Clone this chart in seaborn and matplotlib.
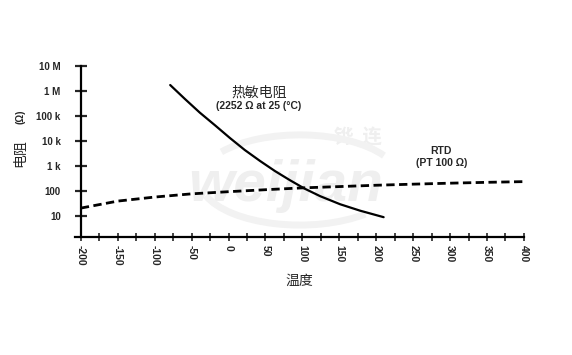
import numpy as np
import pandas as pd
import matplotlib
matplotlib.use('Agg')
import matplotlib.pyplot as plt
from matplotlib.patches import Arc
import seaborn as sns

# values
ntc_temp = [-79, -59, -39, -18, 2, 22, 43, 63, 83, 103, 124, 151, 178, 210]
ntc_ohm = [1.74e6, 4.8e5, 1.38e5, 4.2e4, 1.32e4, 4.4e3, 1.58e3, 631, 275, 126, 63, 30, 16.6, 9.1]

rtd_temp = [-200, -150, -100, -50, 0, 50, 100, 150, 200, 250, 300, 350, 400]
rtd_ohm = [21, 40, 58, 78, 95, 114, 135, 152, 172, 190, 208, 225, 240]

y_ticks = [10, 100, 1e3, 1e4, 1e5, 1e6, 1e7]
y_labels = ['10', '100', '1 k', '10 k', '100 k', '1 M', '10 M']
x_minor = list(range(-200, 401, 25))

sns.set_style('white')
plt.rcParams['font.family'] = ['Liberation Sans', 'Noto Sans CJK SC', 'DejaVu Sans']

ntc = pd.DataFrame({'温度': ntc_temp, '电阻': ntc_ohm})
rtd = pd.DataFrame({'温度': rtd_temp, '电阻': rtd_ohm})

fig = plt.figure(figsize=(5.72, 3.55), dpi=100)
ax = fig.add_axes([0.131, 0.332, 0.785, 0.482])

# faint watermark logo
wm = '#efefef'
ax.text(0.47, 0.30, 'weijian', transform=ax.transAxes, fontsize=42, fontweight='bold',
        fontstyle='italic', color=wm, ha='center', va='center', zorder=0)
ax.text(0.63, 0.58, '铧  连', transform=ax.transAxes, fontsize=14, fontweight='bold',
        color=wm, ha='center', va='center', zorder=0,
        family=['Noto Sans CJK SC'])
for t1, t2 in [(25, 150), (195, 320)]:
    ax.add_patch(Arc((0.524, 0.493), 0.35, 0.254, theta1=t1, theta2=t2,
                     transform=fig.transFigure, color='#f2f2f2', lw=5, zorder=0))

sns.lineplot(data=ntc, x='温度', y='电阻', ax=ax, color='black', lw=1.6)
sns.lineplot(data=rtd, x='温度', y='电阻', ax=ax, color='black', lw=2.0,
             linestyle=(0, (3, 1.6)))

ax.set_yscale('log')
ax.set_xlim(-208, 400)
ax.set_ylim(1.45, 1e7)

for s in ['top', 'right']:
    ax.spines[s].set_visible(False)
ax.spines['left'].set_position(('data', -200))
for s in ['left', 'bottom']:
    ax.spines[s].set_linewidth(1.6)
    ax.spines[s].set_color('black')

ax.set_yticks(y_ticks)
ax.set_yticklabels(y_labels, fontsize=7, fontweight='bold')
ax.yaxis.set_minor_locator(matplotlib.ticker.NullLocator())
ax.tick_params(axis='y', direction='inout', length=9, width=1.6, pad=10, left=True)

ax.set_xticks(x_minor)
ax.set_xticklabels([str(v) if v % 50 == 0 else '' for v in x_minor],
                   fontsize=7.5, fontweight='bold', rotation=-90)
ax.tick_params(axis='x', direction='inout', length=6, width=1.2, pad=3, bottom=True)

ax.set_xlabel('')
ax.set_ylabel('')
fig.text(0.524, 0.208, '温度', fontsize=10, ha='center', va='center')
fig.text(0.035, 0.569, '电阻', fontsize=10, ha='center', va='center', rotation=90)
fig.text(0.035, 0.670, '(Ω)', fontsize=7, fontweight='bold', ha='center', va='center',
         rotation=90)

ax.text(41, 8.3e5, '热敏电阻', fontsize=10, ha='center', va='center')
ax.text(41, 2.5e5, '(2252 Ω at 25 (°C)', fontsize=7.5, fontweight='bold',
        ha='center', va='center')
ax.text(288, 4.2e3, 'RTD', fontsize=7.5, fontweight='bold', ha='center', va='center')
ax.text(288, 1.32e3, '(PT 100 Ω)', fontsize=7.5, fontweight='bold', ha='center', va='center')

fig.savefig('out.png', dpi=100)
